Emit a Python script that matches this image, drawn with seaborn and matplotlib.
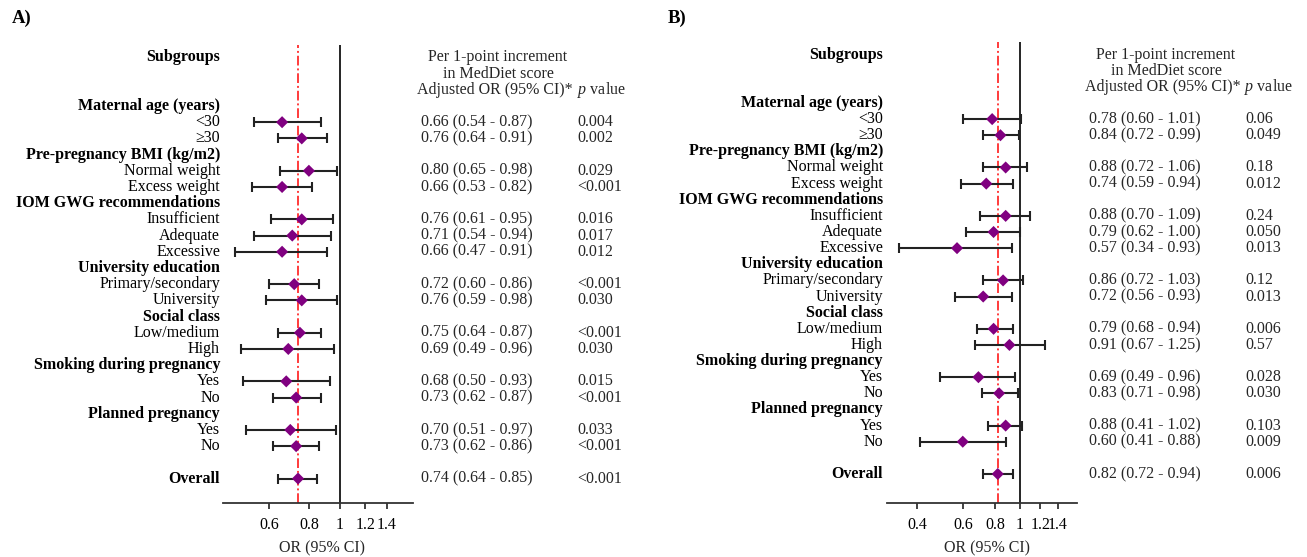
import matplotlib
matplotlib.use("Agg")
import matplotlib.pyplot as plt
import matplotlib.transforms as mtransforms
from matplotlib.ticker import FixedLocator, FixedFormatter, NullLocator
import seaborn as sns
import pandas as pd
import numpy as np

sns.set_theme(style="white")
plt.rcParams['font.family'] = ['Liberation Serif', 'DejaVu Serif']
plt.rcParams['mathtext.fontset'] = 'custom'
plt.rcParams['mathtext.rm'] = 'Liberation Serif'
plt.rcParams['mathtext.it'] = 'Liberation Serif:italic'
plt.rcParams['mathtext.bf'] = 'Liberation Serif:bold'

# ---------------- data ----------------
row_labels = ["Maternal age (years)", "<30", "≥30",
              "Pre-pregnancy BMI (kg/m2)", "Normal weight", "Excess weight",
              "IOM GWG recommendations", "Insufficient", "Adequate", "Excessive",
              "University education", "Primary/secondary", "University",
              "Social class", "Low/medium", "High",
              "Smoking during pregnancy", "Yes", "No",
              "Planned pregnancy", "Yes", "No",
              "", "Overall"]
row_is_heading = [True, False, False,
                  True, False, False,
                  True, False, False, False,
                  True, False, False,
                  True, False, False,
                  True, False, False,
                  True, False, False,
                  False, True]
row_has_estimate = [False, True, True,
                    False, True, True,
                    False, True, True, True,
                    False, True, True,
                    False, True, True,
                    False, True, True,
                    False, True, True,
                    False, True]

# Panel A
a_or = [0.66, 0.76, 0.80, 0.66, 0.76, 0.71, 0.66, 0.72, 0.76, 0.75, 0.69, 0.68, 0.73, 0.70, 0.73, 0.74]
a_lo = [0.54, 0.64, 0.65, 0.53, 0.61, 0.54, 0.47, 0.60, 0.59, 0.64, 0.49, 0.50, 0.62, 0.51, 0.62, 0.64]
a_hi = [0.87, 0.91, 0.98, 0.82, 0.95, 0.94, 0.91, 0.86, 0.98, 0.87, 0.96, 0.93, 0.87, 0.97, 0.86, 0.85]
a_ci_text = ["0.66 (0.54 - 0.87)", "0.76 (0.64 - 0.91)", "0.80 (0.65 - 0.98)", "0.66 (0.53 - 0.82)",
             "0.76 (0.61 - 0.95)", "0.71 (0.54 - 0.94)", "0.66 (0.47 - 0.91)", "0.72 (0.60 - 0.86)",
             "0.76 (0.59 - 0.98)", "0.75 (0.64 - 0.87)", "0.69 (0.49 - 0.96)", "0.68 (0.50 - 0.93)",
             "0.73 (0.62 - 0.87)", "0.70 (0.51 - 0.97)", "0.73 (0.62 - 0.86)", "0.74 (0.64 - 0.85)"]
a_p = ["0.004", "0.002", "0.029", "<0.001", "0.016", "0.017", "0.012", "<0.001",
       "0.030", "<0.001", "0.030", "0.015", "<0.001", "0.033", "<0.001", "<0.001"]
a_overall = 0.74
a_ticks = [0.6, 0.8, 1.0, 1.2, 1.4]
a_ticklabels = ["0.6", "0.8", "1", "1.2", "1.4"]

# Panel B
b_or = [0.78, 0.84, 0.88, 0.74, 0.88, 0.79, 0.57, 0.86, 0.72, 0.79, 0.91, 0.69, 0.83, 0.88, 0.60, 0.82]
b_lo = [0.60, 0.72, 0.72, 0.59, 0.70, 0.62, 0.34, 0.72, 0.56, 0.68, 0.67, 0.49, 0.71, 0.75, 0.41, 0.72]
b_hi = [1.01, 0.99, 1.06, 0.94, 1.09, 1.00, 0.93, 1.03, 0.93, 0.94, 1.25, 0.96, 0.98, 1.02, 0.88, 0.94]
b_ci_text = ["0.78 (0.60 - 1.01)", "0.84 (0.72 - 0.99)", "0.88 (0.72 - 1.06)", "0.74 (0.59 - 0.94)",
             "0.88 (0.70 - 1.09)", "0.79 (0.62 - 1.00)", "0.57 (0.34 - 0.93)", "0.86 (0.72 - 1.03)",
             "0.72 (0.56 - 0.93)", "0.79 (0.68 - 0.94)", "0.91 (0.67 - 1.25)", "0.69 (0.49 - 0.96)",
             "0.83 (0.71 - 0.98)", "0.88 (0.41 - 1.02)", "0.60 (0.41 - 0.88)", "0.82 (0.72 - 0.94)"]
b_p = ["0.06", "0.049", "0.18", "0.012", "0.24", "0.050", "0.013", "0.12",
       "0.013", "0.006", "0.57", "0.028", "0.030", "0.103", "0.009", "0.006"]
b_overall = 0.82
b_ticks = [0.4, 0.6, 0.8, 1.0, 1.2, 1.4]
b_ticklabels = ["0.4", "0.6", "0.8", "1", "1.2", "1.4"]

header_lines = ["Per 1-point increment", "in MedDiet score"]
header_ci = "Adjusted OR (95% CI)*"
header_p = "$p$ value"
xlabel_text = "OR (95% CI)"

# ---------------- layout ----------------
W, H = 1307, 557
fig = plt.figure(figsize=(W / 100, H / 100), dpi=100)
FS = 11.5

panels = [
    dict(tag="A)", tag_x=12, ax_px=(223, 413, 45, 503), xlim=(0.432, 1.688), ylim=(24.51, -3.765),
         label_x=220, ci_x=421, p_x=577, head_cx=498, headci_x=417, headp_x=577, xlab_x=322,
         orv=a_or, lo=a_lo, hi=a_hi, ci=a_ci_text, p=a_p, overall=a_overall,
         ticks=a_ticks, ticklabels=a_ticklabels),
    dict(tag="B)", tag_x=668, ax_px=(887, 1077, 42, 503), xlim=(0.305, 1.664), ylim=(24.80, -3.78),
         label_x=883, ci_x=1089, p_x=1245, head_cx=1166, headci_x=1085, headp_x=1244, xlab_x=987,
         orv=b_or, lo=b_lo, hi=b_hi, ci=b_ci_text, p=b_p, overall=b_overall,
         ticks=b_ticks, ticklabels=b_ticklabels),
]

est_rows = [i for i, h in enumerate(row_has_estimate) if h]

for P in panels:
    l, r, t, b = P["ax_px"]
    ax = fig.add_axes([l / W, 1 - b / H, (r - l) / W, (b - t) / H])
    ax.set_xscale("log")
    ax.set_xlim(*P["xlim"])
    ax.set_ylim(*P["ylim"])

    df = pd.DataFrame({"row": est_rows, "or": P["orv"], "lo": P["lo"], "hi": P["hi"]})
    ax.axvline(1.0, color="black", lw=1.2, zorder=1)
    ax.axvline(P["overall"], color="#ff3b3b", lw=1.4, ls=(0, (5, 1.5, 1, 1.5)), zorder=1)
    ax.errorbar(df["or"], df["row"], xerr=[df["or"] - df["lo"], df["hi"] - df["or"]],
                fmt="none", ecolor="#222222", elinewidth=1.5, capsize=3.4, capthick=1.5, zorder=2)
    sns.scatterplot(data=df, x="or", y="row", marker="D", color="#800080", s=38,
                    edgecolor="none", ax=ax, zorder=3, legend=False)
    ax.set_xlabel("")
    ax.set_ylabel("")

    for s in ["left", "top", "right"]:
        ax.spines[s].set_visible(False)
    ax.spines["bottom"].set_color("#333333")
    ax.spines["bottom"].set_linewidth(1.3)
    ax.yaxis.set_major_locator(NullLocator())
    ax.yaxis.set_minor_locator(NullLocator())
    ax.xaxis.set_major_locator(FixedLocator(P["ticks"]))
    ax.xaxis.set_major_formatter(FixedFormatter(P["ticklabels"]))
    ax.xaxis.set_minor_locator(NullLocator())
    ax.tick_params(axis="x", which="major", direction="out", length=4, width=1.3,
                   color="#333333", pad=6, labelsize=FS, labelcolor="black", bottom=True)
    ax.set_facecolor("none")

    tr = mtransforms.blended_transform_factory(fig.transFigure, ax.transData)
    # Subgroup labels
    ax.text(P["label_x"] / W, -3, "Subgroups", transform=tr, ha="right", va="center",
            fontsize=FS, fontweight="bold", color="black")
    for i, (lab, hd) in enumerate(zip(row_labels, row_is_heading)):
        if lab:
            ax.text(P["label_x"] / W, i, lab, transform=tr, ha="right", va="center",
                    fontsize=FS, fontweight="bold" if hd else "normal", color="black")
    # Header of the table
    ax.text(P["head_cx"] / W, -3, header_lines[0], transform=tr, ha="center", va="center", fontsize=FS)
    ax.text(P["head_cx"] / W, -2, header_lines[1], transform=tr, ha="center", va="center", fontsize=FS)
    ax.text(P["headci_x"] / W, -1, header_ci, transform=tr, ha="left", va="center", fontsize=FS)
    ax.text(P["headp_x"] / W, -1, header_p, transform=tr, ha="left", va="center", fontsize=FS)
    # Table values
    for rw, c, pv in zip(est_rows, P["ci"], P["p"]):
        ax.text(P["ci_x"] / W, rw, c, transform=tr, ha="left", va="center", fontsize=FS)
        ax.text(P["p_x"] / W, rw, pv, transform=tr, ha="left", va="center", fontsize=FS)

    fig.text(P["tag_x"] / W, 1 - 18 / H, P["tag"], ha="left", va="center", fontsize=13.5,
             fontweight="bold", color="black")
    fig.text(P["xlab_x"] / W, 1 - 548 / H, xlabel_text, ha="center", va="center", fontsize=FS)

fig.savefig("out.png", dpi=100, facecolor="white")
